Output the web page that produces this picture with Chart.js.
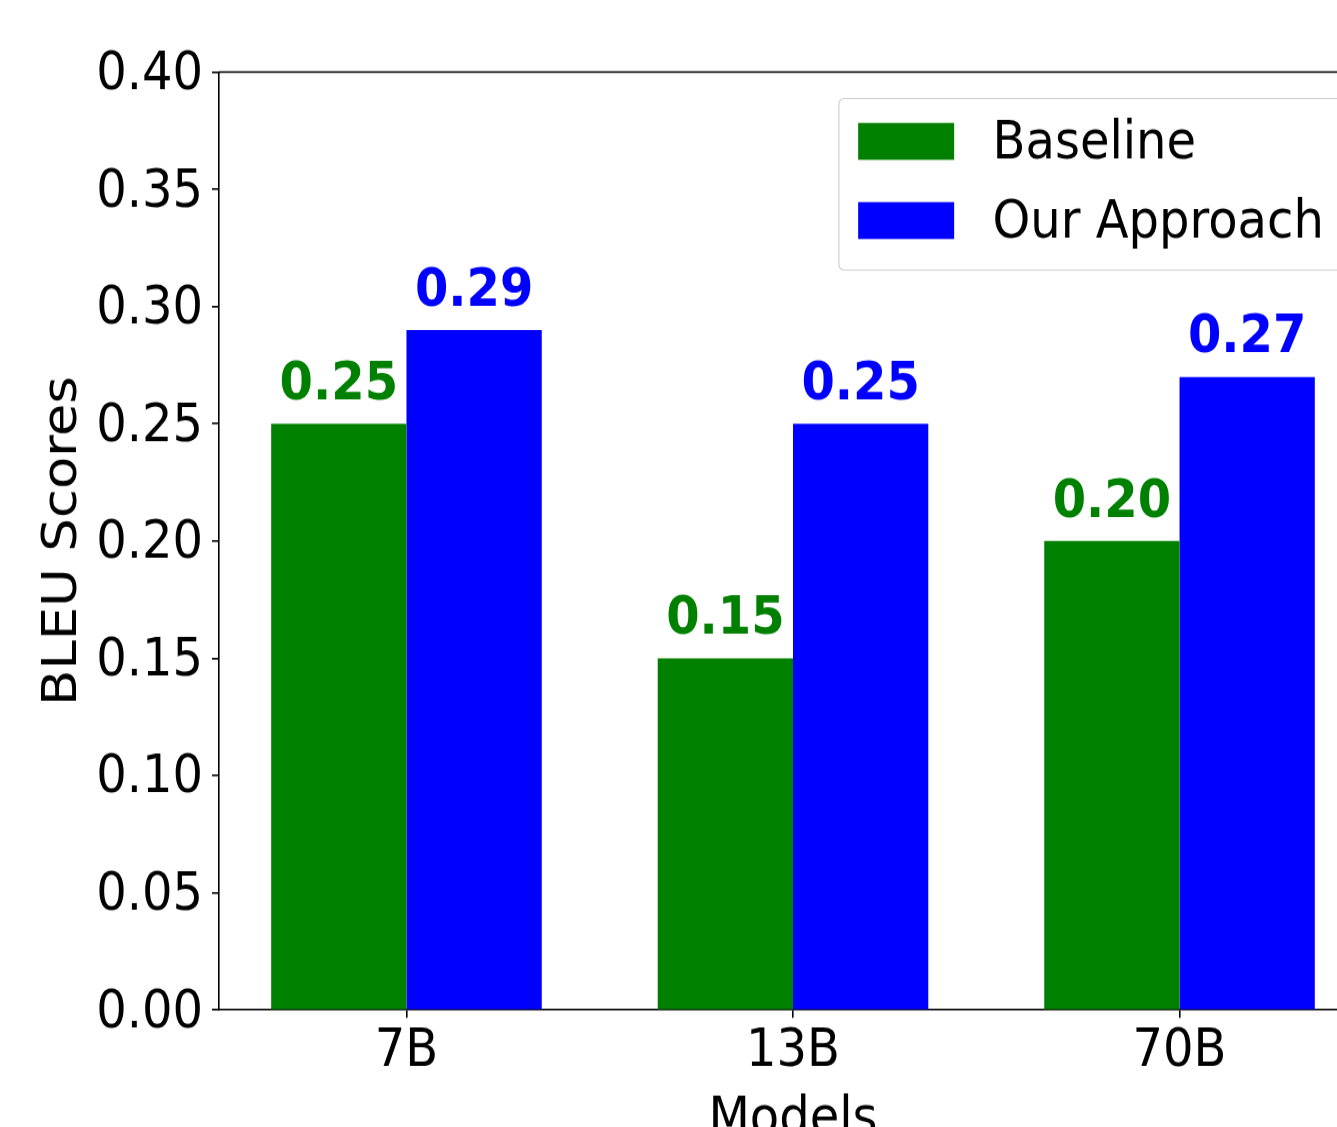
<!DOCTYPE html>
<html>
<head>
<meta charset="utf-8">
<script src="https://cdn.jsdelivr.net/npm/chart.js@4.4.0/dist/chart.umd.min.js"></script>
<style>
  html { overflow: hidden; background: #fff; }
  body { margin: 0; padding: 0; height: 1127px; background: #fff; }
  /* reference picture is stretched vertically by ~1.1 */
  #wrap { width: 1400px; height: 1055px; transform: scaleY(1.1); transform-origin: 0 0; }
</style>
</head>
<body>
<div id="wrap"><canvas id="bleuChart" width="1400" height="1055"></canvas></div>
<script>
const models = ["7B", "13B", "70B"];
const baselineScores = [0.25, 0.15, 0.20];
const approachScores = [0.29, 0.25, 0.27];
const seriesNames = ["Baseline", "Our Approach"];
const seriesColors = ["#008000", "#0000ff"];

const FONT = "'DejaVu Sans', sans-serif";
const EM = 48;

// top spine (matplotlib draws a box, right side is cropped off)
const topSpine = {
  id: "topSpine",
  afterDatasetsDraw(chart) {
    const { ctx, chartArea } = chart;
    ctx.save();
    ctx.strokeStyle = "#000";
    ctx.lineWidth = 1.6;
    ctx.beginPath();
    ctx.moveTo(chartArea.left, chartArea.top);
    ctx.lineTo(chartArea.right, chartArea.top);
    ctx.stroke();
    ctx.restore();
  }
};

// value labels above each bar
const barLabels = {
  id: "barLabels",
  afterDatasetsDraw(chart) {
    const { ctx } = chart;
    const yScale = chart.scales.y;
    ctx.save();
    ctx.font = `bold ${EM}px ${FONT}`;
    ctx.textAlign = "center";
    ctx.textBaseline = "bottom";
    chart.data.datasets.forEach((ds, i) => {
      const meta = chart.getDatasetMeta(i);
      ctx.fillStyle = ds.backgroundColor;
      meta.data.forEach((bar, j) => {
        const v = ds.data[j];
        ctx.fillText(v.toFixed(2), bar.x, yScale.getPixelForValue(v + 0.005));
      });
    });
    ctx.restore();
  }
};

// legend box in the upper right corner of the axes
const boxLegend = {
  id: "boxLegend",
  afterDraw(chart) {
    const { ctx, chartArea } = chart;
    ctx.save();
    ctx.font = `${EM}px ${FONT}`;
    const textW = Math.max(...chart.data.datasets.map(d => ctx.measureText(d.label).width));
    const w = 0.4 * EM + 2 * EM + 0.8 * EM + textW + 0.4 * EM;
    const h = 156;
    const right = chartArea.right - 0.5 * EM;
    const left = right - w;
    const top = chartArea.top + 0.5 * EM;
    ctx.beginPath();
    ctx.roundRect(left, top, w, h, 5);
    ctx.fillStyle = "rgba(255,255,255,0.8)";
    ctx.fill();
    ctx.strokeStyle = "#d0d0d0";
    ctx.lineWidth = 1.2;
    ctx.stroke();
    chart.data.datasets.forEach((ds, i) => {
      const cy = top + 39 + i * 72;
      ctx.fillStyle = ds.backgroundColor;
      ctx.fillRect(left + 0.4 * EM, cy - 0.35 * EM, 2 * EM, 0.7 * EM);
      ctx.fillStyle = "#000";
      ctx.textAlign = "left";
      ctx.textBaseline = "middle";
      ctx.fillText(ds.label, left + 3.2 * EM, cy + 3);
    });
    ctx.restore();
  }
};

new Chart(document.getElementById("bleuChart"), {
  type: "bar",
  data: {
    labels: models.map((m, i) => i),
    datasets: [
      { label: seriesNames[0], data: baselineScores, backgroundColor: seriesColors[0] },
      { label: seriesNames[1], data: approachScores, backgroundColor: seriesColors[1] }
    ]
  },
  options: {
    responsive: false,
    animation: false,
    devicePixelRatio: 1,
    categoryPercentage: 0.7,
    barPercentage: 1.0,
    layout: { padding: { top: 65.5, right: 33, bottom: 0, left: 0 } },
    plugins: {
      legend: { display: false },
      tooltip: { enabled: false }
    },
    scales: {
      x: {
        type: "linear",
        offset: false,
        min: -0.485,
        max: 2.485,
        afterBuildTicks: axis => { axis.ticks = models.map((m, i) => ({ value: i })); },
        afterFit: axis => { axis.height = 136.8; },
        grid: { offset: false, drawOnChartArea: false, tickLength: 7, color: "#000", lineWidth: 1.6 },
        border: { color: "#000", width: 1.6 },
        ticks: {
          color: "#000",
          padding: 3,
          maxRotation: 0,
          font: { family: FONT, size: EM, lineHeight: 1.2 },
          callback: v => models[v]
        },
        title: {
          display: true,
          text: "Models",
          color: "#000",
          font: { family: FONT, size: EM, lineHeight: 1.2 },
          padding: { top: 0, bottom: 8 }
        }
      },
      y: {
        min: 0,
        max: 0.4,
        afterFit: axis => { axis.width = 219; },
        grid: { drawOnChartArea: false, tickLength: 7, color: "#000", lineWidth: 1.6 },
        border: { color: "#000", width: 1.6 },
        ticks: {
          stepSize: 0.05,
          color: "#000",
          padding: 9,
          labelOffset: 3,
          font: { family: FONT, size: EM, lineHeight: 1.2 },
          callback: v => v.toFixed(2)
        },
        title: {
          display: true,
          text: "BLEU Scores",
          color: "#000",
          font: { family: FONT, size: EM, lineHeight: 1.2 },
          padding: { top: 35, bottom: 0 }
        }
      }
    }
  },
  plugins: [topSpine, barLabels, boxLegend]
});
</script>
</body>
</html>
